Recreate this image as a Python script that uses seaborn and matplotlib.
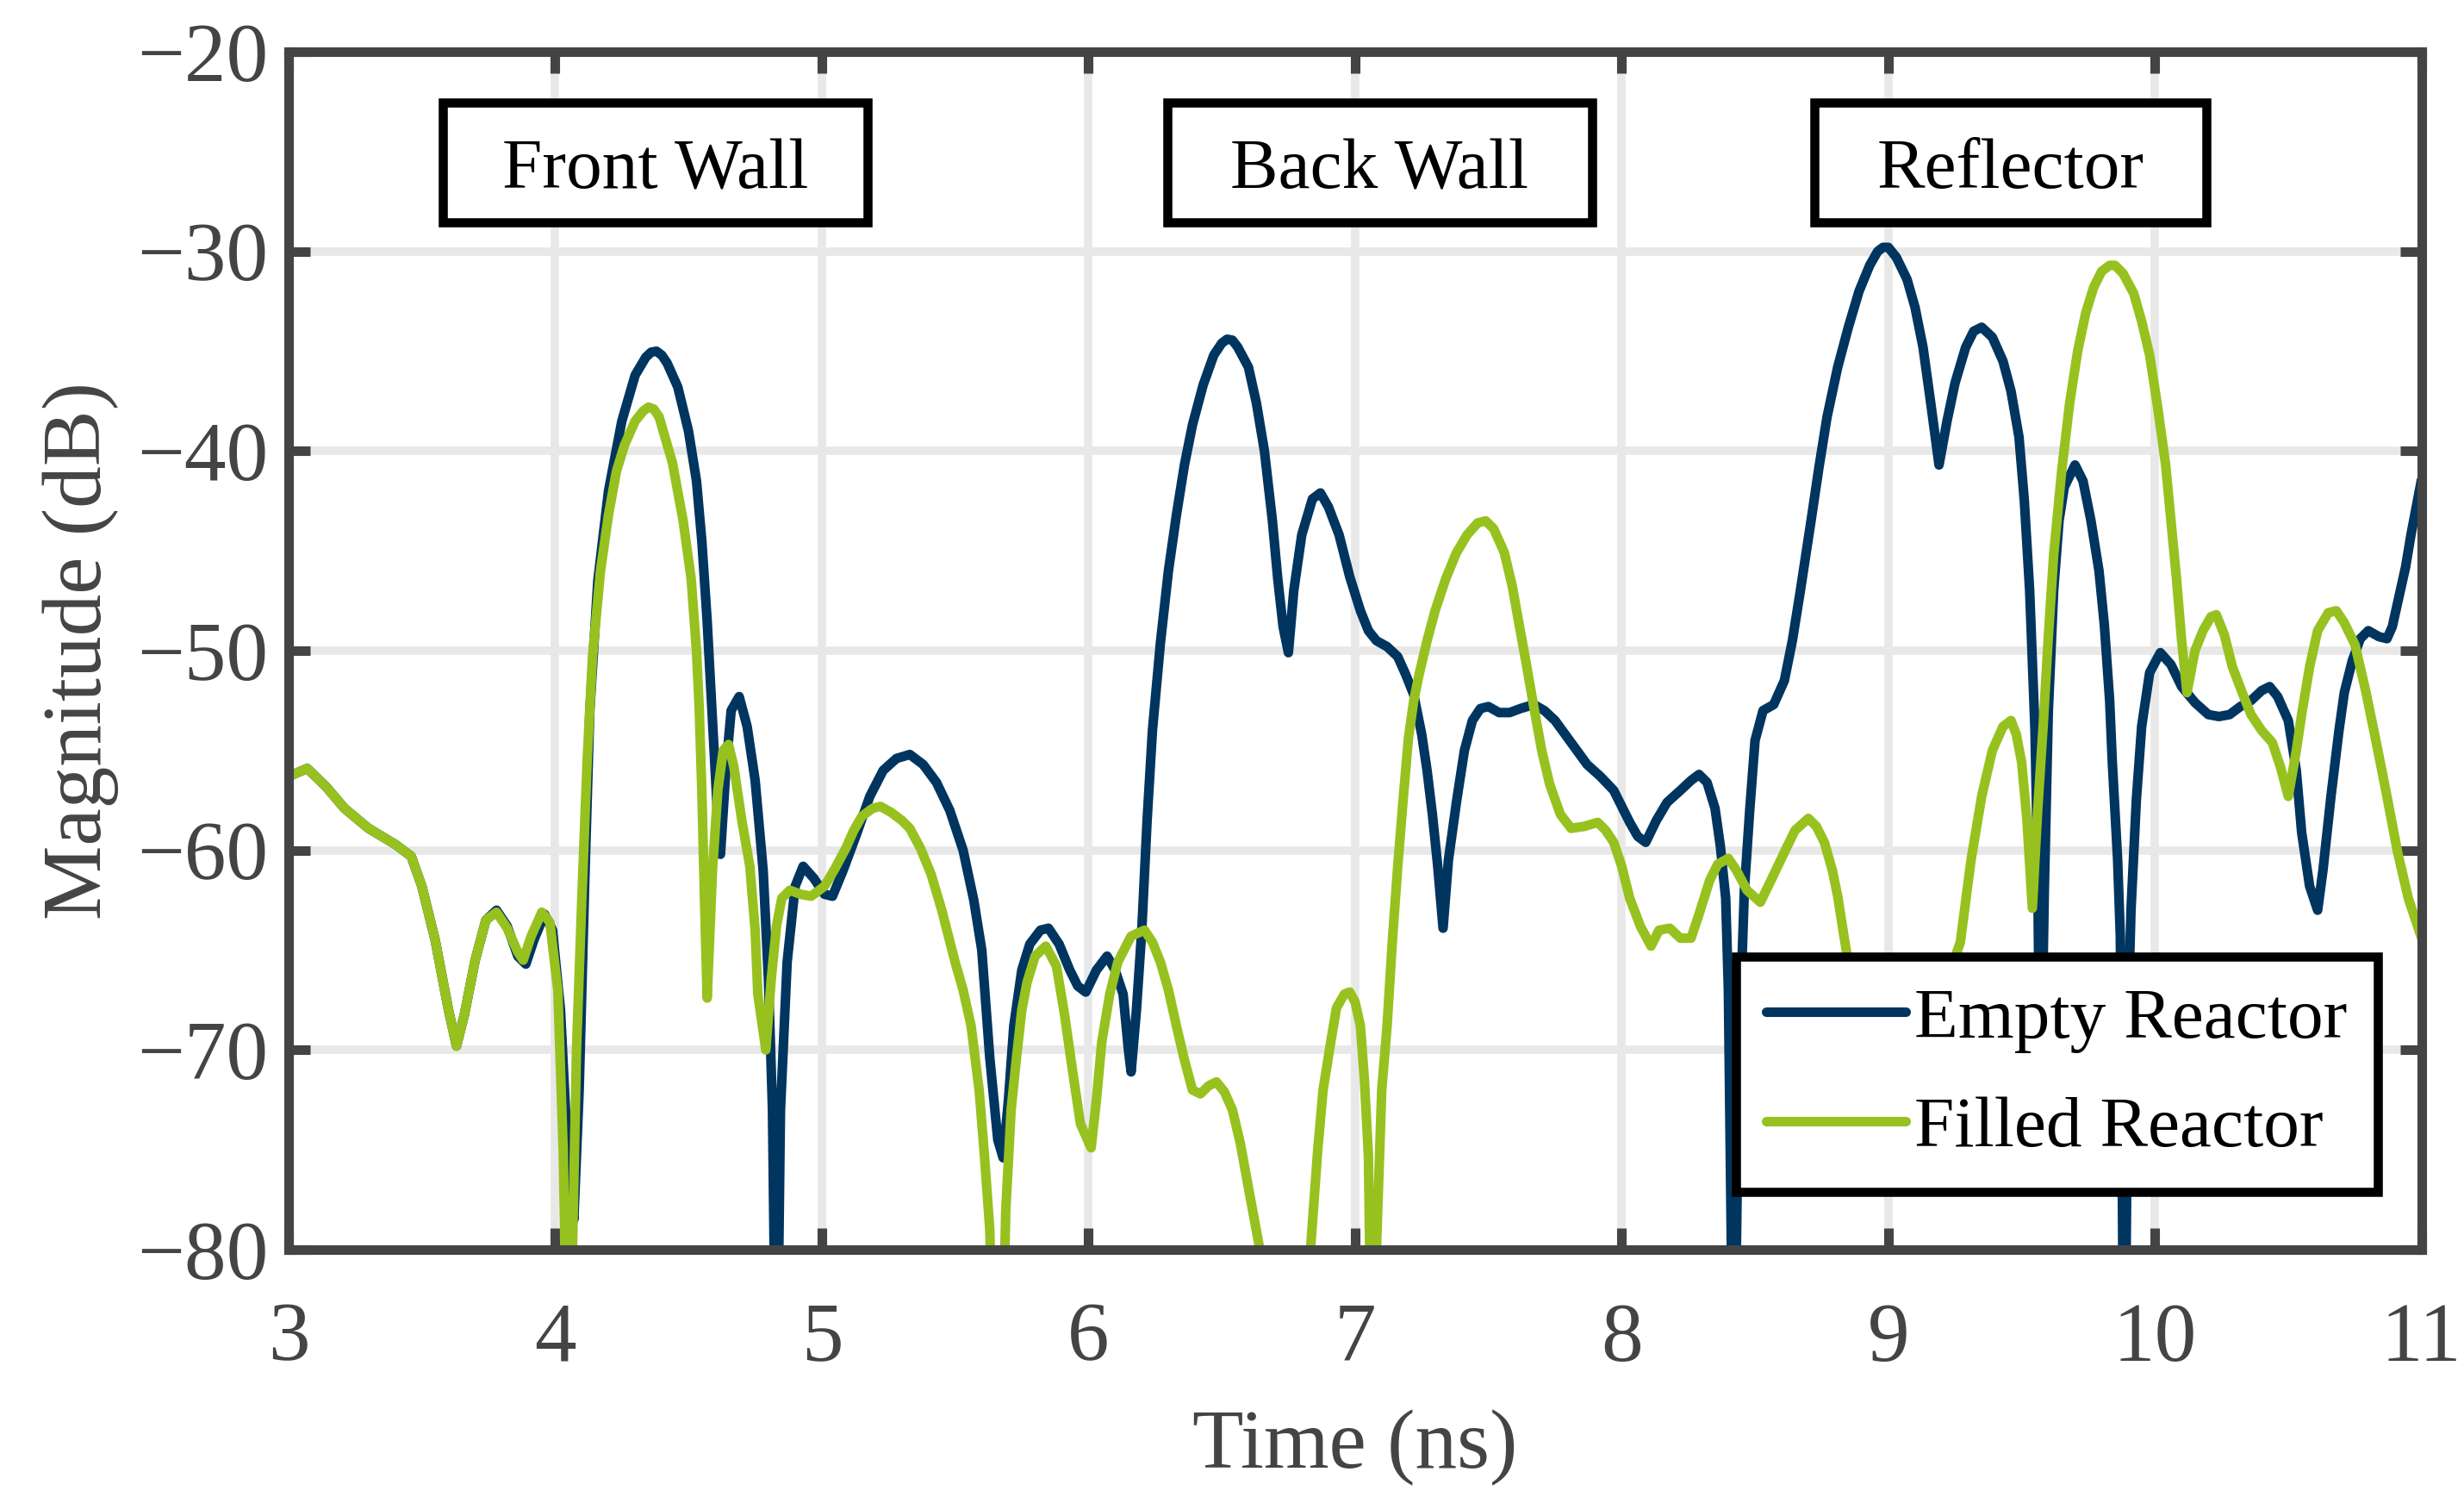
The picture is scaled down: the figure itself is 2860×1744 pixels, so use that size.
import numpy as np
import pandas as pd
import matplotlib
matplotlib.use("Agg")
import matplotlib.pyplot as plt
from matplotlib.patches import Rectangle
import seaborn as sns

# ---------------- data ----------------
time_empty = [3.00, 3.07, 3.14, 3.21, 3.30, 3.40, 3.46, 3.50, 3.55, 3.60, 3.63, 3.66, 3.70, 3.74,
              3.78, 3.82, 3.86, 3.89, 3.92, 3.96, 3.99, 4.02, 4.05, 4.07, 4.09, 4.11, 4.13, 4.16,
              4.20, 4.25, 4.30, 4.34, 4.36, 4.38, 4.40, 4.42, 4.46, 4.50, 4.53, 4.55, 4.57, 4.59, 4.61, 4.62,
              4.64, 4.66, 4.69, 4.72, 4.75, 4.78, 4.80, 4.815, 4.83, 4.845, 4.87, 4.90, 4.93, 4.97,
              5.01, 5.04, 5.08, 5.13, 5.18, 5.23, 5.28, 5.33, 5.38, 5.43, 5.48, 5.53, 5.57, 5.60,
              5.63, 5.66, 5.68, 5.70, 5.72, 5.75, 5.78, 5.82, 5.85, 5.89, 5.93, 5.96, 5.99, 6.03,
              6.07, 6.10, 6.13, 6.15, 6.16, 6.18, 6.20, 6.22, 6.24, 6.27, 6.30, 6.33, 6.36, 6.39,
              6.43, 6.47, 6.50, 6.52, 6.54, 6.56, 6.60, 6.63, 6.66, 6.69, 6.71, 6.73, 6.75, 6.77, 6.80,
              6.84, 6.87, 6.90, 6.94, 6.98, 7.02, 7.05, 7.08, 7.12, 7.16, 7.19, 7.22, 7.25, 7.27,
              7.29, 7.31, 7.33, 7.35, 7.38, 7.41, 7.44, 7.47, 7.50, 7.54, 7.58, 7.62, 7.67, 7.71,
              7.75, 7.81, 7.87, 7.92, 7.97, 8.03, 8.06, 8.09, 8.13, 8.17, 8.22, 8.26, 8.29, 8.32,
              8.35, 8.37, 8.39, 8.40, 8.42, 8.44, 8.46, 8.48, 8.50, 8.53, 8.57, 8.61, 8.64, 8.67,
              8.71, 8.74, 8.77, 8.81, 8.85, 8.89, 8.93, 8.96, 8.98, 9.00, 9.03, 9.07, 9.10, 9.13, 9.16,
              9.19, 9.22, 9.25, 9.29, 9.32, 9.35, 9.39, 9.43, 9.46, 9.49, 9.51, 9.53, 9.55, 9.56,
              9.57, 9.585, 9.60, 9.62, 9.64, 9.66, 9.70, 9.73, 9.76, 9.79, 9.81, 9.83, 9.84, 9.86,
              9.87, 9.885, 9.90, 9.91, 9.93, 9.95, 9.98, 10.02, 10.06, 10.10, 10.15, 10.20, 10.24,
              10.28, 10.32, 10.36, 10.40, 10.43, 10.46, 10.50, 10.53, 10.55, 10.58, 10.61, 10.63,
              10.66, 10.69, 10.71, 10.74, 10.77, 10.80, 10.84, 10.87, 10.89, 10.91, 10.94, 10.96, 11.00]
empty_db = [-56.3, -55.9, -56.8, -57.9, -58.9, -59.7, -60.3, -61.8, -64.5, -68.0, -69.8, -68.2, -65.5, -63.5,
            -63.0, -63.8, -65.3, -65.7, -64.5, -63.2, -64.0, -68.0, -76.0, -78.5, -72.0, -62.0, -53.0, -46.5,
            -42.0, -38.5, -36.2, -35.3, -35.05, -35.0, -35.2, -35.6, -36.8, -39.0, -41.5, -44.5, -48.5, -53.5, -58.5, -60.2,
            -56.0, -53.0, -52.3, -53.8, -56.5, -61.0, -66.5, -73.0, -90.0, -73.0, -65.6, -61.8, -60.8, -61.4,
            -62.2, -62.3, -61.0, -59.2, -57.3, -56.0, -55.4, -55.2, -55.7, -56.6, -58.0, -60.0, -62.5, -65.0,
            -70.4, -74.5, -75.4, -72.5, -68.8, -66.0, -64.7, -64.0, -63.9, -64.7, -66.0, -66.8, -67.1, -66.0,
            -65.3, -66.0, -67.2, -70.0, -71.1, -68.0, -64.0, -58.5, -54.0, -49.6, -46.0, -43.2, -40.7, -38.7,
            -36.7, -35.2, -34.6, -34.4, -34.45, -34.8, -35.8, -37.6, -40.0, -43.5, -46.4, -48.8, -50.1, -47.0, -44.2,
            -42.4, -42.1, -42.8, -44.2, -46.3, -48.0, -49.0, -49.5, -49.8, -50.3, -51.2, -52.2, -54.2, -56.0,
            -58.2, -60.8, -63.9, -60.5, -57.6, -55.0, -53.5, -52.9, -52.8, -53.1, -53.1, -52.9, -52.7, -53.0,
            -53.5, -54.6, -55.7, -56.3, -57.0, -58.6, -59.3, -59.6, -58.5, -57.6, -57.0, -56.5, -56.2, -56.6,
            -57.9, -59.8, -62.4, -67.0, -90.0, -70.0, -62.0, -58.0, -54.5, -53.0, -52.7, -51.5, -49.5, -47.0,
            -43.5, -40.8, -38.3, -35.8, -33.8, -32.0, -30.7, -30.0, -29.8, -29.8, -30.3, -31.4, -32.8, -34.8, -37.7,
            -40.7, -38.5, -36.6, -34.8, -34.0, -33.8, -34.3, -35.5, -37.0, -39.3, -42.5, -47.0, -54.0, -60.8,
            -74.0, -62.0, -53.0, -47.0, -43.5, -41.8, -40.7, -41.5, -43.5, -46.0, -48.7, -52.5, -55.6, -60.5,
            -64.3, -90.0, -68.0, -63.0, -57.5, -53.8, -51.1, -50.1, -50.7, -51.8, -52.6, -53.2, -53.3,
            -53.2, -52.8, -52.5, -52.0, -51.8, -52.3, -53.5, -56.0, -59.1, -61.8, -63.0, -61.0,
            -57.3, -54.0, -52.1, -50.5, -49.4, -49.0, -49.3, -49.4, -48.8, -47.6, -45.8, -44.2, -41.4]

time_filled = [3.00, 3.07, 3.14, 3.21, 3.30, 3.40, 3.46, 3.50, 3.55, 3.60, 3.63, 3.66, 3.70, 3.74,
               3.78, 3.82, 3.86, 3.88, 3.91, 3.95, 3.98, 4.01, 4.03, 4.05, 4.08, 4.10, 4.12, 4.14,
               4.17, 4.20, 4.23, 4.26, 4.30, 4.33, 4.35, 4.37, 4.39, 4.44, 4.48, 4.51, 4.53, 4.54, 4.55, 4.56,
               4.57, 4.59, 4.61, 4.63, 4.65, 4.67, 4.70, 4.73, 4.75, 4.76, 4.79, 4.81, 4.83, 4.85,
               4.88, 4.92, 4.96, 5.01, 5.05, 5.09, 5.12, 5.15, 5.19, 5.22, 5.26, 5.30, 5.33, 5.37,
               5.41, 5.45, 5.50, 5.53, 5.56, 5.59, 5.61, 5.63, 5.65, 5.67, 5.69, 5.71, 5.73, 5.75,
               5.77, 5.80, 5.84, 5.88, 5.91, 5.94, 5.97, 6.01, 6.03, 6.05, 6.08, 6.11, 6.16, 6.21,
               6.24, 6.27, 6.30, 6.33, 6.36, 6.39, 6.42, 6.45, 6.48, 6.51, 6.54, 6.57, 6.60, 6.65,
               6.72, 6.80, 6.83, 6.86, 6.88, 6.91, 6.93, 6.96, 6.98, 7.00, 7.02, 7.035, 7.05, 7.065,
               7.08, 7.10, 7.12, 7.14, 7.16, 7.18, 7.20, 7.22, 7.24, 7.27, 7.30, 7.34, 7.38, 7.42,
               7.46, 7.49, 7.52, 7.56, 7.59, 7.61, 7.64, 7.67, 7.70, 7.73, 7.77, 7.81, 7.86, 7.91,
               7.94, 7.97, 8.00, 8.03, 8.07, 8.11, 8.14, 8.18, 8.22, 8.26, 8.29, 8.33, 8.36, 8.40,
               8.43, 8.47, 8.52, 8.56, 8.61, 8.65, 8.70, 8.73, 8.76, 8.79, 8.81, 8.83, 8.86, 8.92,
               9.00, 9.08, 9.16, 9.22, 9.27, 9.31, 9.35, 9.39, 9.43, 9.46, 9.48, 9.50, 9.52, 9.54,
               9.56, 9.58, 9.60, 9.62, 9.65, 9.68, 9.71, 9.74, 9.77, 9.80, 9.83, 9.85, 9.88, 9.92, 9.95,
               9.98, 10.01, 10.04, 10.06, 10.08, 10.10, 10.12, 10.15, 10.18, 10.21, 10.23, 10.26,
               10.29, 10.33, 10.36, 10.40, 10.44, 10.47, 10.50, 10.53, 10.55, 10.58, 10.61, 10.65,
               10.68, 10.71, 10.75, 10.79, 10.83, 10.87, 10.91, 10.95, 11.00]
filled_db = [-56.3, -55.9, -56.8, -57.9, -58.9, -59.7, -60.3, -61.8, -64.5, -68.0, -69.8, -68.2, -65.5, -63.5,
             -63.1, -63.9, -65.1, -65.5, -64.3, -63.1, -63.6, -67.0, -75.0, -90.0, -70.0, -62.4, -55.5, -50.3,
             -46.0, -43.2, -41.0, -39.7, -38.5, -38.0, -37.8, -37.9, -38.3, -40.6, -43.5, -46.4, -50.0, -52.8, -57.0, -62.4,
             -67.4, -61.0, -57.0, -55.0, -54.7, -55.8, -58.5, -60.8, -64.0, -67.2, -70.0, -66.5, -63.8, -62.4,
             -62.0, -62.2, -62.3, -61.8, -60.9, -59.9, -59.0, -58.3, -57.9, -57.8, -58.1, -58.5, -58.9, -59.9,
             -61.2, -63.0, -65.6, -67.0, -68.8, -72.0, -75.3, -79.0, -90.0, -90.0, -78.0, -73.0, -70.4, -68.0,
             -66.6, -65.3, -64.8, -65.8, -68.2, -71.0, -73.7, -74.9, -72.5, -69.6, -67.2, -65.6, -64.3, -64.0,
             -64.6, -65.6, -67.0, -68.8, -70.5, -72.0, -72.2, -71.8, -71.6, -72.1, -73.0, -74.7, -76.9, -80.5,
             -90.0, -90.0, -80.5, -75.0, -72.0, -69.5, -67.9, -67.2, -67.1, -67.6, -68.8, -71.5, -75.3, -90.0,
             -80.0, -72.0, -68.8, -64.5, -60.8, -57.5, -54.4, -52.5, -51.2, -49.5, -48.0, -46.4, -45.1, -44.2,
             -43.6, -43.5, -43.9, -45.1, -46.8, -48.3, -50.5, -52.8, -55.0, -56.7, -58.2, -58.9, -58.8, -58.6,
             -59.0, -59.6, -60.8, -62.4, -63.8, -64.8, -64.0, -63.9, -64.4, -64.4, -63.2, -61.5, -60.7, -60.4,
             -61.0, -62.0, -62.6, -61.5, -60.1, -59.0, -58.4, -58.8, -59.6, -61.0, -62.3, -64.0, -66.5, -70.0,
             -73.0, -72.0, -69.0, -66.5, -64.6, -60.5, -57.3, -55.0, -53.8, -53.5, -54.2, -55.6, -58.5, -62.9,
             -58.0, -53.9, -49.3, -45.2, -41.0, -37.6, -35.0, -33.1, -31.8, -31.0, -30.7, -30.7, -31.1, -32.1, -33.5,
             -35.2, -37.8, -40.7, -43.5, -46.3, -49.5, -52.1, -50.0, -49.0, -48.3, -48.2, -49.2,
             -50.8, -52.2, -53.2, -54.0, -54.6, -55.8, -57.3, -55.0, -53.2, -50.8, -49.0, -48.1,
             -48.0, -48.6, -49.7, -52.0, -54.6, -57.3, -60.1, -62.4, -64.4]

series_names = ["Empty Reactor", "Filled Reactor"]
series_colors = ["#003560", "#97C11F"]

x_ticks = [3, 4, 5, 6, 7, 8, 9, 10, 11]
y_ticks = [-80, -70, -60, -50, -40, -30, -20]

region_labels = ["Front Wall", "Back Wall", "Reflector"]
region_left = [3.578, 6.296, 8.722]
region_right = [5.171, 7.889, 10.193]
region_bottom = -28.55
region_top = -22.53
region_text_y = -26.83

# ---------------- styling ----------------
sns.set_theme(style="whitegrid")
plt.rcParams["font.family"] = ["Liberation Serif", "DejaVu Serif"]
plt.rcParams["axes.unicode_minus"] = True

AX_GRAY = "#444444"

fig = plt.figure(figsize=(14.3, 8.72), dpi=200)
ax = fig.add_axes([0.1171, 0.16858, 0.8657, 0.79702])

df = pd.concat([
    pd.DataFrame({"Time": time_empty, "Magnitude": empty_db, "Series": series_names[0]}),
    pd.DataFrame({"Time": time_filled, "Magnitude": filled_db, "Series": series_names[1]}),
], ignore_index=True)

sns.lineplot(data=df, x="Time", y="Magnitude", hue="Series", hue_order=series_names,
             palette=series_colors, estimator=None, sort=False, linewidth=4.0, ax=ax,
             legend=False)
for ln in ax.lines:
    ln.set_solid_joinstyle("round")
    ln.set_solid_capstyle("butt")

ax.set_xlim(3, 11)
ax.set_ylim(-80, -20)
ax.set_xticks(x_ticks)
ax.set_yticks(y_ticks)

ax.set_facecolor("white")
ax.set_axisbelow(True)
ax.grid(True, color="#E8E8E8", linewidth=3.5)

for sp in ax.spines.values():
    sp.set_visible(True)
    sp.set_color(AX_GRAY)
    sp.set_linewidth(4.0)
    sp.set_zorder(5)

ax.tick_params(axis="both", which="major", direction="in", length=9, width=4.0,
               color=AX_GRAY, labelcolor=AX_GRAY, labelsize=35,
               top=True, right=True, bottom=True, left=True)
ax.tick_params(axis="x", pad=22)
ax.tick_params(axis="y", pad=8.5)

ax.set_xlabel("Time (ns)", fontsize=35, color=AX_GRAY)
ax.set_ylabel("Magnitude (dB)", fontsize=35, color=AX_GRAY)
ax.xaxis.set_label_coords(0.5, -0.182)
ax.xaxis.label.set_va("baseline")
ax.yaxis.set_label_coords(-0.088, 0.5)
ax.yaxis.label.set_va("baseline")

# region boxes
for lab, l, r in zip(region_labels, region_left, region_right):
    ax.add_patch(Rectangle((l, region_bottom), r - l, region_top - region_bottom,
                           facecolor="white", edgecolor="black", linewidth=3.8,
                           zorder=6, clip_on=False))
    ax.text((l + r) / 2, region_text_y, lab, ha="center", va="baseline",
            fontsize=30, color="black", zorder=7)

# legend
handles = [plt.Line2D([], [], color=c, linewidth=4.0) for c in series_colors]
leg = ax.legend(handles, series_names, loc="lower right", bbox_to_anchor=(0.9794, 0.0482),
                borderaxespad=0.0, fontsize=30, frameon=True, fancybox=False,
                framealpha=1.0, edgecolor="black", borderpad=0.42, labelspacing=0.6,
                handlelength=1.95, handletextpad=0.12)
leg.get_frame().set_linewidth(3.8)
leg.set_zorder(8)
for t in leg.get_texts():
    t.set_color("black")

fig.savefig("out.png", dpi=200, facecolor="white")
